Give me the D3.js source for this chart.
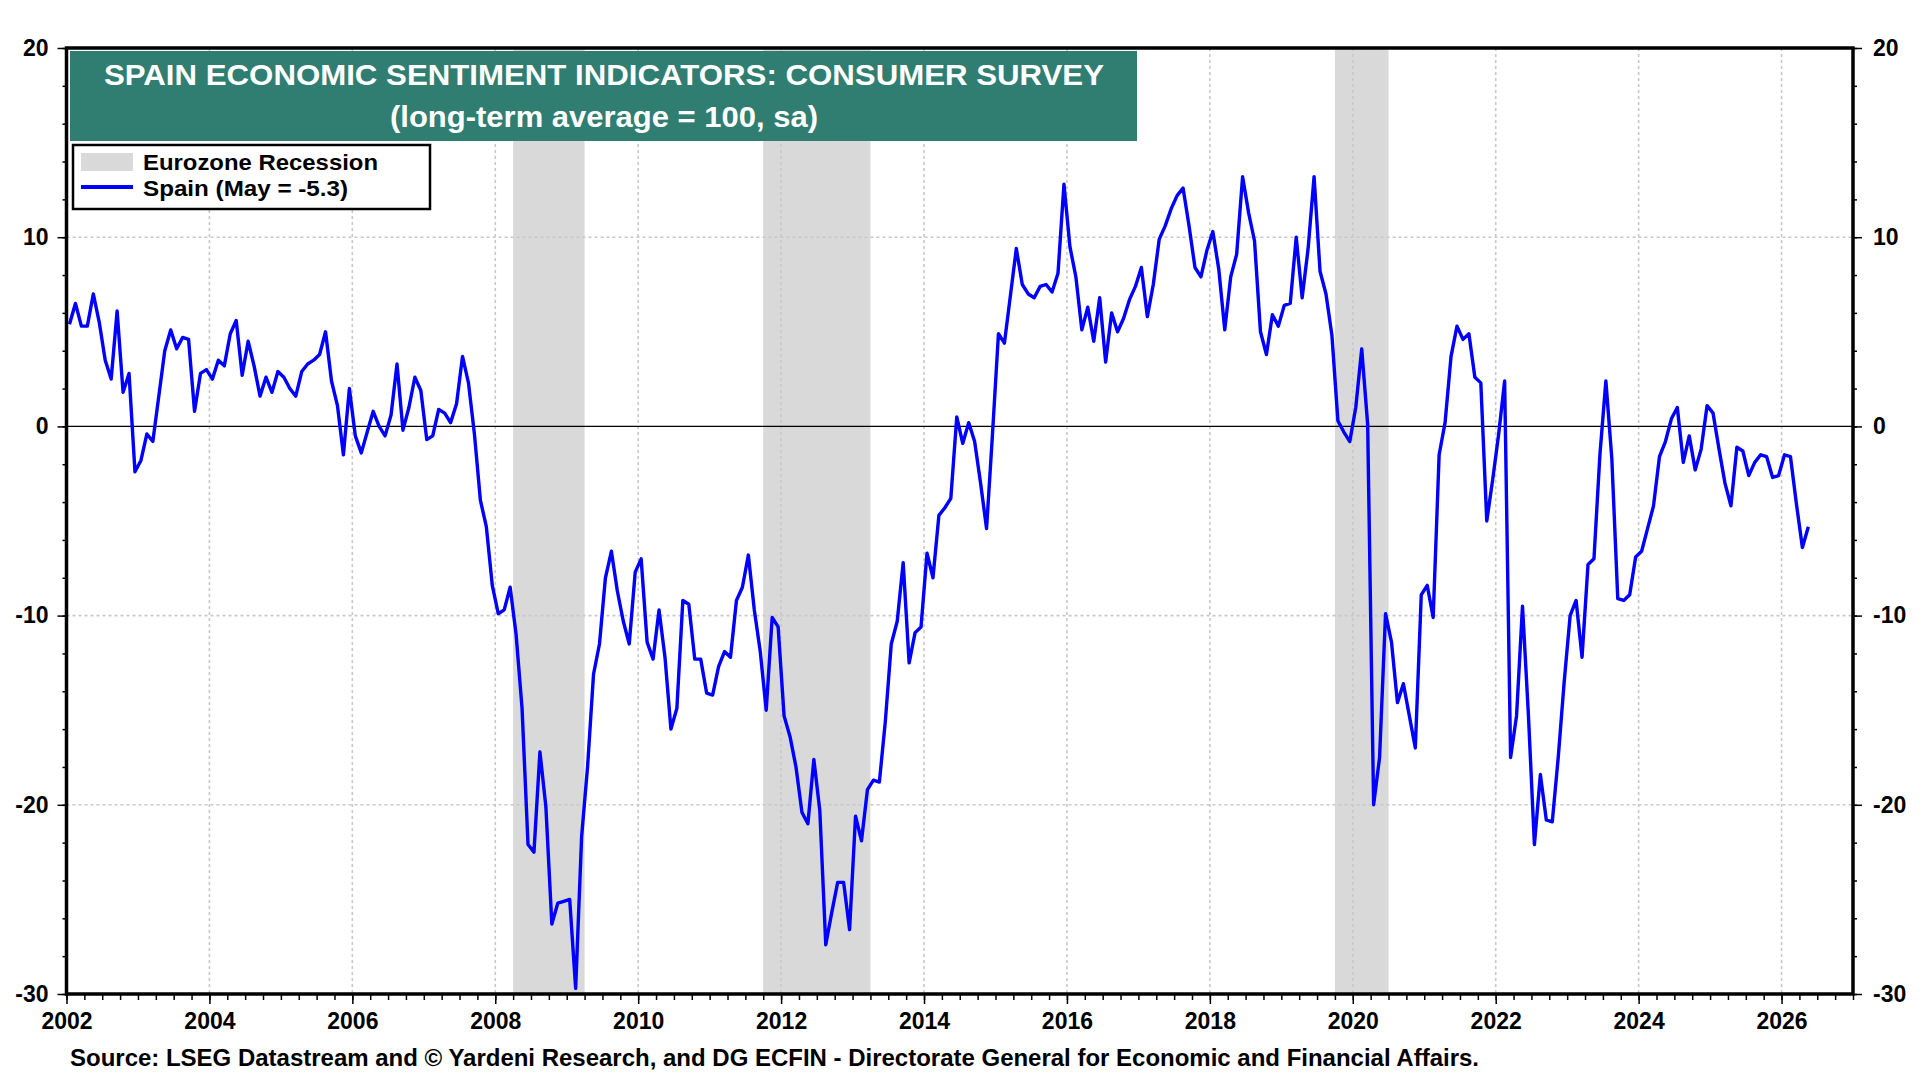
<!DOCTYPE html>
<html>
<head>
<meta charset="utf-8">
<script src="https://cdnjs.cloudflare.com/ajax/libs/d3/7.8.5/d3.min.js"></script>
<style>
    body { margin: 0; background: #ffffff; }
    text { font-family: "Liberation Sans", Arial, sans-serif; font-weight: bold; }
</style>
</head>
<body>
<div id="chart"></div>
<script>
// Spain consumer confidence, monthly from Jan 2002 to May 2026
const startYear = 2002;
const spain = [
    5.4, 6.5, 5.3, 5.3, 7.0, 5.5, 3.5, 2.5, 6.1, 1.8, 2.8, -2.4,
    -1.8, -0.4, -0.8, 1.6, 4.0, 5.1, 4.1, 4.7, 4.6, 0.8, 2.8, 3.0,
    2.5, 3.5, 3.2, 4.9, 5.6, 2.7, 4.5, 3.2, 1.6, 2.6, 1.8, 2.9,
    2.6, 2.0, 1.6, 2.9, 3.3, 3.5, 3.8, 5.0, 2.4, 1.1, -1.5, 2.0,
    -0.5, -1.4, -0.3, 0.8, 0.0, -0.5, 0.6, 3.3, -0.2, 1.0, 2.6, 1.9,
    -0.7, -0.5, 0.9, 0.7, 0.2, 1.2, 3.7, 2.3, -0.4, -3.9, -5.3, -8.4,
    -9.9, -9.7, -8.5, -11.0, -14.9, -22.1, -22.5, -17.2, -20.1, -26.3, -25.2, -25.1,
    -25.0, -29.7, -21.7, -18.0, -13.1, -11.5, -8.0, -6.6, -8.7, -10.3, -11.5, -7.7,
    -7.0, -11.4, -12.3, -9.7, -12.2, -16.0, -14.9, -9.2, -9.4, -12.3, -12.3, -14.1,
    -14.2, -12.7, -11.9, -12.2, -9.2, -8.5, -6.8, -9.7, -11.9, -15.0, -10.1, -10.6,
    -15.3, -16.4, -18.0, -20.4, -21.0, -17.6, -20.3, -27.4, -25.7, -24.1, -24.1, -26.6,
    -20.6, -21.9, -19.2, -18.7, -18.8, -15.6, -11.5, -10.3, -7.2, -12.5, -10.9, -10.6,
    -6.7, -8.0, -4.7, -4.3, -3.8, 0.5, -0.9, 0.2, -0.8, -3.0, -5.4, -0.4,
    4.9, 4.4, 6.9, 9.4, 7.5, 7.0, 6.8, 7.4, 7.5, 7.1, 8.1, 12.8,
    9.5, 7.9, 5.1, 6.3, 4.5, 6.8, 3.4, 6.0, 5.0, 5.7, 6.7, 7.4,
    8.4, 5.8, 7.5, 9.9, 10.6, 11.5, 12.2, 12.6, 10.6, 8.4, 7.9, 9.3,
    10.3, 8.3, 5.1, 7.9, 9.1, 13.2, 11.3, 9.8, 5.0, 3.8, 5.9, 5.3,
    6.4, 6.5, 10.0, 6.8, 9.4, 13.2, 8.2, 7.0, 4.8, 0.3, -0.3, -0.8,
    1.0, 4.1, 0.1, -20.0, -17.5, -9.9, -11.4, -14.6, -13.6, -15.3, -17.0, -8.9,
    -8.4, -10.1, -1.5, 0.2, 3.7, 5.3, 4.6, 4.9, 2.6, 2.3, -5.0, -2.8,
    -0.4, 2.4, -17.5, -15.3, -9.5, -15.3, -22.1, -18.4, -20.8, -20.9, -17.5, -13.5,
    -10.0, -9.2, -12.2, -7.3, -7.0, -1.5, 2.4, -1.7, -9.1, -9.2, -8.9, -6.9,
    -6.6, -5.4, -4.2, -1.6, -0.8, 0.4, 1.0, -1.9, -0.5, -2.3, -1.2, 1.1,
    0.7, -1.2, -3.0, -4.2, -1.1, -1.3, -2.6, -1.9, -1.5, -1.6, -2.7, -2.6,
    -1.5, -1.6, -4.1, -6.4, -5.3
];

// Eurozone recessions (decimal years)
const recessionStart = [2008.25, 2011.75, 2019.75];
const recessionEnd = [2009.25, 2013.25, 2020.5];

const yearTicks = [2002, 2004, 2006, 2008, 2010, 2012, 2014, 2016, 2018, 2020, 2022, 2024, 2026];
const valueTicks = [20, 10, 0, -10, -20, -30];
const gridValues = [10, -10, -20];

const titleLines = ["SPAIN ECONOMIC SENTIMENT INDICATORS: CONSUMER SURVEY", "(long-term average = 100, sa)"];
const legendLabels = ["Eurozone Recession", "Spain (May = -5.3)"];
const sourceText = "Source: LSEG Datastream and \u00A9 Yardeni Research, and DG ECFIN - Directorate General for Economic and Financial Affairs.";

function createChart() {
    const width = 1920;
    const height = 1080;
    const margin = { top: 48, right: 67, bottom: 86, left: 66.5 };
    const plotWidth = width - margin.left - margin.right;
    const plotHeight = height - margin.top - margin.bottom;

    const root = d3.select("#chart")
        .append("svg")
        .attr("width", width)
        .attr("height", height);

    const svg = root.append("g")
        .attr("transform", `translate(${margin.left},${margin.top})`);

    const x = d3.scaleLinear().domain([2002, 2027]).range([0, plotWidth]);
    const y = d3.scaleLinear().domain([-30, 20]).range([plotHeight, 0]);

    const series = spain.map((v, i) => ({ t: startYear + (i + 0.5) / 12, v: v }));

    // Recession shading
    svg.selectAll("rect.recession")
        .data(recessionStart.map((s, i) => [s, recessionEnd[i]]))
        .enter().append("rect")
        .attr("class", "recession")
        .attr("x", d => x(d[0]))
        .attr("width", d => x(d[1]) - x(d[0]))
        .attr("y", 0)
        .attr("height", plotHeight)
        .attr("fill", "#d9d9d9");

    // Grid lines
    svg.selectAll("line.vgrid")
        .data(yearTicks.slice(1))
        .enter().append("line")
        .attr("x1", d => x(d)).attr("x2", d => x(d))
        .attr("y1", 0).attr("y2", plotHeight)
        .attr("stroke", "#c8c8c8")
        .attr("stroke-width", 1.6)
        .attr("stroke-dasharray", "3,3");

    svg.selectAll("line.hgrid")
        .data(gridValues)
        .enter().append("line")
        .attr("x1", 0).attr("x2", plotWidth)
        .attr("y1", d => y(d)).attr("y2", d => y(d))
        .attr("stroke", "#c8c8c8")
        .attr("stroke-width", 1.6)
        .attr("stroke-dasharray", "3,3");

    svg.append("line")
        .attr("x1", 0).attr("x2", plotWidth)
        .attr("y1", y(0)).attr("y2", y(0))
        .attr("stroke", "#000")
        .attr("stroke-width", 1.2);

    // Spain line
    const line = d3.line()
        .x(d => x(d.t))
        .y(d => y(d.v));

    svg.append("path")
        .datum(series)
        .attr("fill", "none")
        .attr("stroke", "#0000ff")
        .attr("stroke-width", 3.4)
        .attr("stroke-linejoin", "round")
        .attr("d", line);

    // Axes
    const minorX = d3.range(2002, 2027.001, 0.25);
    const minorY = d3.range(-30, 20.001, 2);
    const plain = d => String(d);

    svg.append("g")
        .attr("transform", `translate(0,${plotHeight})`)
        .call(d3.axisBottom(x).tickValues(minorX).tickSize(6).tickFormat(""));

    svg.append("g")
        .attr("transform", `translate(0,${plotHeight})`)
        .call(d3.axisBottom(x).tickValues(yearTicks).tickSize(10).tickPadding(9).tickFormat(plain))
        .style("font-size", "23px");

    svg.append("g")
        .call(d3.axisLeft(y).tickValues(minorY).tickSize(4).tickFormat(""));
    svg.append("g")
        .call(d3.axisLeft(y).tickValues(valueTicks).tickSize(9).tickPadding(9).tickFormat(plain))
        .style("font-size", "23px");

    svg.append("g")
        .attr("transform", `translate(${plotWidth},0)`)
        .call(d3.axisRight(y).tickValues(minorY).tickSize(4).tickFormat(""));
    svg.append("g")
        .attr("transform", `translate(${plotWidth},0)`)
        .call(d3.axisRight(y).tickValues(valueTicks).tickSize(9).tickPadding(11).tickFormat(plain))
        .style("font-size", "23px");

    root.selectAll(".domain").remove();
    root.selectAll(".tick line").attr("stroke", "#000").attr("stroke-width", 1.5);
    root.selectAll(".tick text").attr("fill", "#000").style("font-family", "'Liberation Sans', Arial, sans-serif").style("font-weight", "bold");

    // Frame
    svg.append("rect")
        .attr("x", 0).attr("y", 0)
        .attr("width", plotWidth).attr("height", plotHeight)
        .attr("fill", "none")
        .attr("stroke", "#000")
        .attr("stroke-width", 3.5);

    // Title box
    root.append("rect")
        .attr("x", 70).attr("y", 51)
        .attr("width", 1067).attr("height", 90)
        .attr("fill", "#307d71");

    const titleWidths = [1000, 428];
    root.selectAll("text.title")
        .data(titleLines)
        .enter().append("text")
        .attr("class", "title")
        .attr("x", 604)
        .attr("y", (d, i) => 85 + i * 42)
        .attr("text-anchor", "middle")
        .attr("fill", "#ffffff")
        .attr("textLength", (d, i) => titleWidths[i])
        .attr("lengthAdjust", "spacingAndGlyphs")
        .style("font-size", "30px")
        .text(d => d);

    // Legend
    const legend = root.append("g").attr("transform", "translate(73,145)");
    legend.append("rect")
        .attr("width", 357).attr("height", 64)
        .attr("fill", "#fff")
        .attr("stroke", "#000")
        .attr("stroke-width", 2.5);
    legend.append("rect")
        .attr("x", 8).attr("y", 8)
        .attr("width", 52).attr("height", 18)
        .attr("fill", "#d9d9d9");
    legend.append("line")
        .attr("x1", 8).attr("x2", 60)
        .attr("y1", 42).attr("y2", 42)
        .attr("stroke", "#0000ff")
        .attr("stroke-width", 4);
    const legendWidths = [235, 205];
    legend.selectAll("text")
        .data(legendLabels)
        .enter().append("text")
        .attr("x", 70)
        .attr("y", (d, i) => 25 + i * 26)
        .attr("textLength", (d, i) => legendWidths[i])
        .attr("lengthAdjust", "spacingAndGlyphs")
        .style("font-size", "22px")
        .text(d => d);

    // Source
    root.append("text")
        .attr("x", 70)
        .attr("y", 1066)
        .attr("textLength", 1409)
        .attr("lengthAdjust", "spacingAndGlyphs")
        .style("font-size", "23px")
        .text(sourceText);
}

document.addEventListener('DOMContentLoaded', createChart);
</script>
</body>
</html>
